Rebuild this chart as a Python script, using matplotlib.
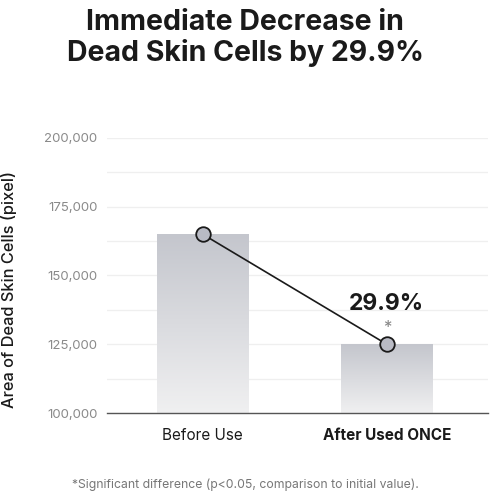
import matplotlib.pyplot as plt
import numpy as np
from matplotlib.ticker import FuncFormatter, MultipleLocator

categories = ['Before Use', 'After Used ONCE']
values = [165000, 125000]
decrease_label = '29.9%'
title = 'Immediate Decrease in\nDead Skin Cells by 29.9%'
ylabel = 'Area of Dead Skin Cells (pixel)'
footnote = '*Significant difference (p<0.05, comparison to initial value).'

plt.rcParams['font.family'] = ['Inter', 'DejaVu Sans']

fig = plt.figure(figsize=(4.9, 4.96), dpi=100)
ax = fig.add_axes([107/490, 1 - 413/496, (488-107)/490, (413-138)/496])

ymin, ymax = 100000, 200000

# gradient bars
grad = np.linspace(0, 1, 256).reshape(-1, 1)
cmap = plt.matplotlib.colors.LinearSegmentedColormap.from_list('g', ['#f0f0f1', '#c4c6cd'])
bw = 0.495
for i, v in enumerate(values):
    ax.imshow(grad, extent=(i - bw/2, i + bw/2, ymin, v), origin='lower',
              cmap=cmap, aspect='auto', zorder=2)
ax.set_aspect('auto')
ax.set_xlim(-0.52, 1.55)
ax.set_ylim(ymin, ymax)

x = np.arange(len(values))
ax.plot(x, values, color='#1a1a1a', lw=1.2, zorder=3)
ax.scatter(x, values, s=110, color='#b9bbc5', edgecolor='#1a1a1a', linewidth=1.3, zorder=4)

ax.text(1, 139500, decrease_label, ha='center', va='center', fontsize=16.5,
        fontweight='bold', color='#1a1a1a')
ax.text(1, 131200, '*', ha='center', va='center', fontsize=12, color='#888888')

# grid
ax.yaxis.set_major_locator(MultipleLocator(25000))
ax.yaxis.set_minor_locator(MultipleLocator(12500))
ax.grid(which='both', axis='y', color='#efefef', lw=0.9, zorder=0)
ax.set_axisbelow(True)
ax.yaxis.set_major_formatter(FuncFormatter(lambda v, p: f'{int(v):,}'))
ax.tick_params(axis='y', which='both', length=0, labelsize=9.5, labelcolor='#8a8a8a', pad=7)
ax.tick_params(axis='x', length=0, labelsize=11, labelcolor='#1a1a1a', pad=11)
ax.set_xticks(x)
ax.set_xticklabels(categories)
ax.get_xticklabels()[1].set_fontweight('bold')

for s in ['top', 'right', 'left']:
    ax.spines[s].set_visible(False)
ax.spines['bottom'].set_color('#555555')
ax.spines['bottom'].set_linewidth(1.0)

ax.set_ylabel(ylabel, fontsize=11.8, color='#1a1a1a', fontweight='medium')
ax.yaxis.set_label_coords(-0.235, 0.45)

fig.text(0.5, 1 - 38/496, title, ha='center', va='center', fontsize=20.5,
         fontweight='bold', color='#1a1a1a', linespacing=1.1)
fig.text(0.5, 1 - 485/496, footnote, ha='center', va='center', fontsize=8.8, color='#777777')

fig.savefig('out.png', dpi=100)
